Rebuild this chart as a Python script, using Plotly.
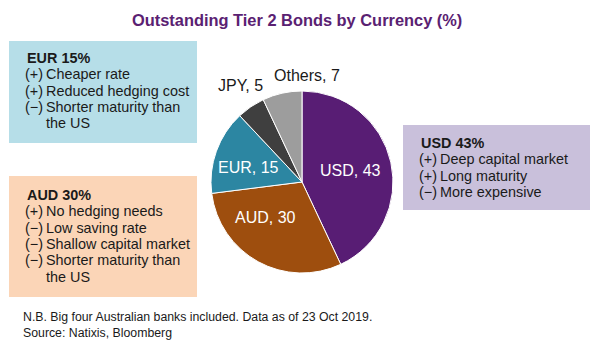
import plotly.graph_objects as go

# ---- data ----
currencies = ["USD", "AUD", "EUR", "JPY", "Others"]
shares = [43, 30, 15, 5, 7]
slice_colors = ["#581D74", "#9E4E0E", "#2C86A2", "#3F3F3F", "#9D9D9D"]
label_colors = ["white", "white", "white", "#1a1a1a", "#1a1a1a"]

title_text = "Outstanding Tier 2 Bonds by Currency (%)"
eur_title = "EUR 15%"
eur_signs = ["(+)", "(+)", "(\u2212)", ""]
eur_lines = ["Cheaper rate", "Reduced hedging cost", "Shorter maturity than", "the US"]
aud_title = "AUD 30%"
aud_signs = ["(+)", "(\u2212)", "(\u2212)", "(\u2212)", ""]
aud_lines = ["No hedging needs", "Low saving rate", "Shallow capital market", "Shorter maturity than", "the US"]
usd_title = "USD 43%"
usd_signs = ["(+)", "(+)", "(\u2212)"]
usd_lines = ["Deep capital market", "Long maturity", "More expensive"]
footnotes = ["N.B. Big four Australian banks included. Data as of 23 Oct 2019.",
             "Source: Natixis, Bloomberg"]

W, H = 600, 360
FONT = "Liberation Sans, Arial, sans-serif"


def px(x):
    return x / W


def py(y):
    return 1 - y / H


fig = go.Figure()
fig.add_trace(go.Pie(
    labels=currencies, values=shares, sort=False, direction="clockwise", rotation=0,
    marker=dict(colors=slice_colors, line=dict(color="white", width=1)),
    textinfo="none",
    domain=dict(x=[px(211), px(393)], y=[py(273), py(91)]),
    showlegend=False, hoverinfo="label+value",
))

shapes = []
annotations = []


def box(x0, y0, x1, y1, color):
    shapes.append(dict(type="rect", xref="paper", yref="paper", x0=px(x0), x1=px(x1),
                       y0=py(y1), y1=py(y0), fillcolor=color, line=dict(width=0), layer="below"))


def text(x, y, s, size=14.4, bold=False, color="#1a1a1a", anchor="left"):
    annotations.append(dict(xref="paper", yref="paper", x=px(x), y=py(y), text=f"<b>{s}</b>" if bold else s,
                            showarrow=False, xanchor=anchor, yanchor="middle",
                            font=dict(size=size, color=color, family=FONT)))


def panel(x0, y0, x1, y1, color, tx, ty, title, signs, lines):
    box(x0, y0, x1, y1, color)
    text(tx + 1, ty, title, bold=True)
    for i, (sg, ln) in enumerate(zip(signs, lines)):
        yy = ty + 16.3 * (i + 1)
        if sg:
            text(tx - 1, yy, sg)
        text(tx + 20, yy, ln)


panel(9, 41, 197, 143, "#B6DEE8", 24, 58, eur_title, eur_signs, eur_lines)
panel(9, 176, 197, 297, "#FBD5B7", 24, 195, aud_title, aud_signs, aud_lines)
panel(403, 125, 590, 210, "#C9C0DB", 418, 143, usd_title, usd_signs, usd_lines)

# pie labels (text from the data arrays)
label_xy = [(350, 170), (265, 218), (248, 167), (240, 85), (307, 75)]
for (lx, ly), cur, val, col in zip(label_xy, currencies, shares, label_colors):
    text(lx, ly, f"{cur}, {val}", size=16, anchor="center", color=col)

text(297, 20, title_text, size=16.4, bold=True, color="#5A2172", anchor="center")
text(21, 317, footnotes[0], size=12.3)
text(21, 333, footnotes[1], size=12.3)

fig.update_layout(width=W, height=H, margin=dict(l=0, r=0, t=0, b=0),
                  paper_bgcolor="white", plot_bgcolor="white",
                  shapes=shapes, annotations=annotations)
fig.write_html("out.html", config={"displayModeBar": False},
               post_script="document.body.style.margin='0px';")
